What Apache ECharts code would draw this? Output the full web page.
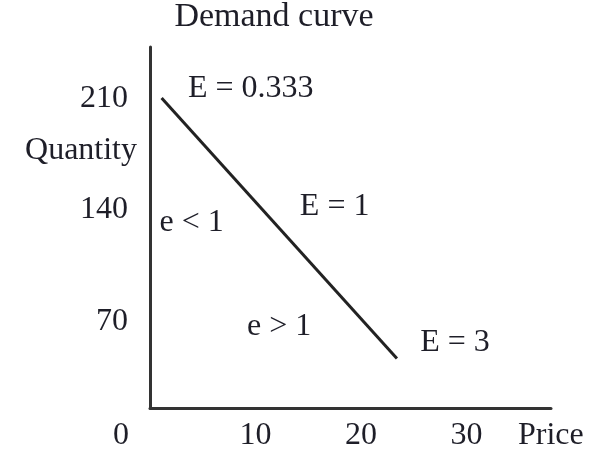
<!DOCTYPE html>
<html>
<head>
<meta charset="utf-8">
<script src="https://cdn.jsdelivr.net/npm/echarts@6/dist/echarts.min.js"></script>
<style>
  html, body { margin: 0; padding: 0; background: #fff; }
  #chart { width: 592px; height: 456px; }
</style>
</head>
<body>
<div id="chart"></div>
<script>
// Linear demand curve: price on x, quantity on y
const priceTicks = [0, 10, 20, 30];
const quantityTicks = [70, 140, 210];
const demandPrice = [1.1, 23.4];
const demandQuantity = [210, 47];

// Elasticity notes, each anchored at (price, quantity)
const noteText = ['E = 0.333', 'E = 1', 'E = 3', 'e < 1', 'e > 1'];
const notePrice = [3.6, 14.2, 25.6, 0.9, 9.2];
const noteQuantity = [216, 142, 57, 132, 67];

const FONT = '"Liberation Serif", "DejaVu Serif", serif';
const INK = '#1e1e28';
const SIZE = 32;
const txt = { fontFamily: FONT, fontSize: SIZE, color: INK };

const chart = echarts.init(document.getElementById('chart'), null, { renderer: 'canvas' });

chart.setOption({
  backgroundColor: '#fff',
  animation: false,
  title: {
    text: 'Demand curve',
    left: 274,
    textAlign: 'center',
    top: 0,
    padding: 0,
    textStyle: Object.assign({}, txt, { fontSize: 34, fontWeight: 'normal' })
  },
  grid: { left: 150, right: 41, top: 47, bottom: 48, containLabel: false, outerBoundsMode: 'none' },
  xAxis: {
    type: 'value',
    min: 0,
    max: 38,
    name: '{p|Price}',
    nameLocation: 'end',
    nameGap: -33,
    nameMoveOverlap: false,
    nameTextStyle: Object.assign({
      align: 'left', verticalAlign: 'middle',
      rich: { p: Object.assign({ padding: [56, 0, 0, 0] }, txt) }
    }, txt),
    axisLine: { show: true, onZero: false, lineStyle: { color: '#333', width: 3 } },
    axisTick: { show: false },
    splitLine: { show: false },
    axisLabel: Object.assign({
      customValues: priceTicks,
      margin: 12,
      formatter: v => (v === 0 ? '{o|0}' : String(v)),
      rich: { o: Object.assign({ padding: [0, 58, 0, 0] }, txt) }
    }, txt)
  },
  yAxis: {
    type: 'value',
    min: 16,
    max: 242,
    name: '{q|Quantity}',
    nameLocation: 'middle',
    nameRotate: 0,
    nameGap: 13,
    nameMoveOverlap: false,
    nameTextStyle: Object.assign({
      rich: { q: Object.assign({ padding: [0, 0, 154, 0] }, txt) }
    }, txt),
    axisLine: { show: true, lineStyle: { color: '#333', width: 3 } },
    axisTick: { show: false },
    splitLine: { show: false },
    axisLabel: Object.assign({ customValues: quantityTicks, margin: 22 }, txt)
  },
  series: [
    {
      name: 'Demand',
      type: 'line',
      data: demandPrice.map((p, i) => [p, demandQuantity[i]]),
      symbol: 'none',
      lineStyle: { color: '#222', width: 3 }
    },
    {
      name: 'Elasticity',
      type: 'scatter',
      symbolSize: 0,
      itemStyle: { opacity: 1 },
      data: noteText.map((t, i) => ({ name: t, value: [notePrice[i], noteQuantity[i]] })),
      label: Object.assign({
        show: true,
        position: 'right',
        distance: 0,
        opacity: 1,
        formatter: p => p.name
      }, txt)
    }
  ]
});
</script>
</body>
</html>
